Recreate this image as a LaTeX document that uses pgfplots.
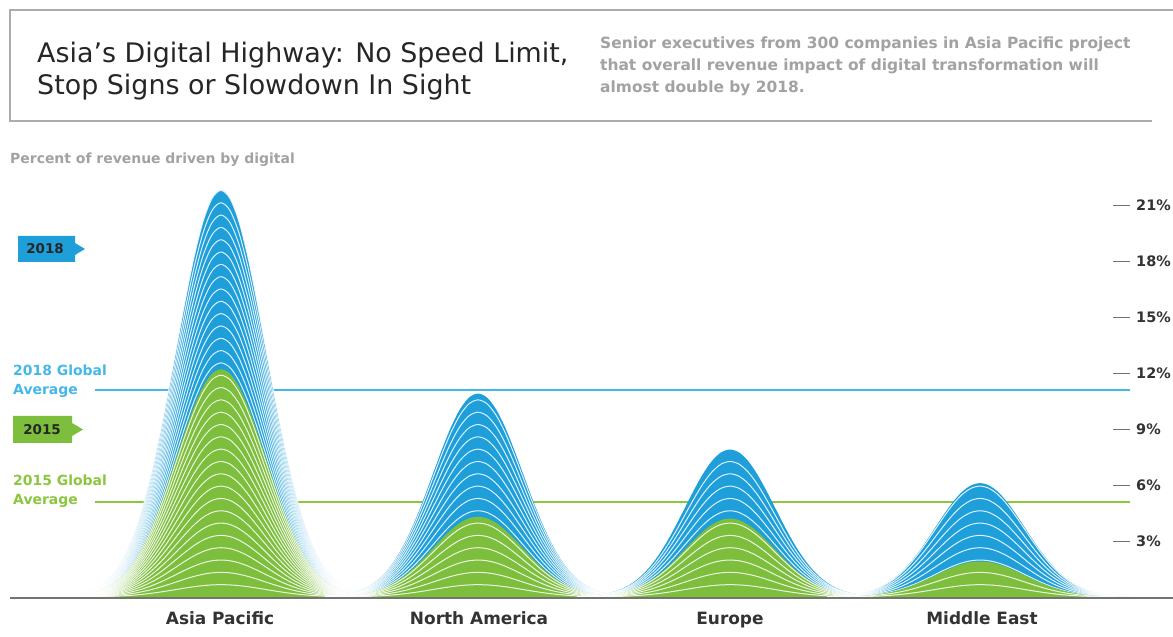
\documentclass[border=0pt]{standalone}
\usepackage{pgfplots}
\pgfplotsset{compat=1.18}
\usepackage{pgfplotstable}
\usepackage{fontspec}
\setmainfont{DejaVu Sans}

\definecolor{digblue}{HTML}{1E9FDA}
\definecolor{diggreen}{HTML}{7DBE3C}
\definecolor{avgblue}{HTML}{45B8E8}
\definecolor{avggreen}{HTML}{8CC63F}
\definecolor{labelgray}{HTML}{333333}
\definecolor{subgray}{HTML}{A2A2A2}
\definecolor{boxgray}{HTML}{ABABAB}

% Share of revenue driven by digital (%), per region
\pgfplotstableread{
center y2015 y2018
221    12.2  21.8
478    4.3   10.9
730    4.2   7.9
980    1.9   6.1
}\regions

% Normalised bell profile: offset u (in widths) and relative height g
\pgfplotstableread{
u     g
-3.4  0.00309
-3.2  0.00598
-3.0  0.01111
-2.8  0.01984
-2.6  0.03405
-2.4  0.05613
-2.2  0.08892
-2.0  0.13534
-1.8  0.19790
-1.6  0.27804
-1.4  0.37531
-1.2  0.48675
-1.0  0.60653
-0.8  0.72615
-0.6  0.83527
-0.4  0.92312
-0.2  0.98020
 0.0  1.00000
 0.2  0.98020
 0.4  0.92312
 0.6  0.83527
 0.8  0.72615
 1.0  0.60653
 1.2  0.48675
 1.4  0.37531
 1.6  0.27804
 1.8  0.19790
 2.0  0.13534
 2.2  0.08892
 2.4  0.05613
 2.6  0.03405
 2.8  0.01984
 3.0  0.01111
 3.2  0.00598
 3.4  0.00309
}\bellshape

\def\bellsigma{45}
\def\linestep{0.66}

% filled bell with nested white contour lines: centre, peak, colour
\newcommand\drawbell[3]{%
  \edef\next{\noexpand\addplot[draw=none, fill=#3, smooth]
    table[x expr=#1+\bellsigma*\noexpand\thisrow{u},
          y expr=#2*\noexpand\thisrow{g}] {\noexpand\bellshape} \noexpand\closedcycle;}\next
  \pgfmathtruncatemacro\nlines{#2/\linestep}%
  \pgfplotsforeachungrouped \k in {1,...,\nlines}{%
    \edef\next{\noexpand\addplot[draw=white, draw opacity=0.85, line width=1bp, smooth]
      table[x expr=#1+\bellsigma*\noexpand\thisrow{u},
            y expr=\k*\linestep*\noexpand\thisrow{g}] {\noexpand\bellshape};}\next
  }%
}
\newcommand\bellpair[1]{%
  \pgfplotstablegetelem{#1}{center}\of\regions\edef\cx{\pgfplotsretval}%
  \pgfplotstablegetelem{#1}{y2018}\of\regions\edef\pa{\pgfplotsretval}%
  \pgfplotstablegetelem{#1}{y2015}\of\regions\edef\pb{\pgfplotsretval}%
  \drawbell{\cx}{\pa}{digblue}%
  \drawbell{\cx}{\pb}{diggreen}%
}

\begin{document}
\begin{tikzpicture}
\path[use as bounding box] (0,0) rectangle (1173bp,637bp);
\clip (0,0) rectangle (1173bp,637bp);
\fill[white] (0,0) rectangle (1173bp,637bp);

\begin{axis}[
  at={(0,0)}, anchor=south west,
  scale only axis, width=1130bp, height=637bp,
  xmin=0, xmax=1130, ymin=-2.1429, ymax=31.982,
  clip=false,
  axis x line=none, axis y line*=right,
  y axis line style={draw=none},
  ytick={3,6,...,21},
  tick align=inside, major tick length=17bp,
  major tick style={draw=black!55, line width=0.9bp},
  yticklabel={\pgfmathprintnumber{\tick}\%},
  yticklabel style={font=\fontsize{14.5}{14.5}\selectfont\bfseries, text=labelgray,
    anchor=west, inner sep=0pt, xshift=6bp},
  /pgf/number format/assume math mode=true,
]
% global averages
\addplot[draw=avgblue, line width=1.6bp] coordinates {(95,11.1) (1130,11.1)};
\addplot[draw=avggreen, line width=1.6bp] coordinates {(95,5.1) (1130,5.1)};
% regional bells
\bellpair{0}
\bellpair{1}
\bellpair{2}
\bellpair{3}
\end{axis}

\begin{scope}[x=1bp, y=-1bp, shift={(0bp,637bp)}]
  % header box
  \draw[boxgray, line width=1.2bp] (1173,10) -- (10,10) -- (10,121) -- (1152,121);
  \node[anchor=base west, inner sep=0, font=\fontsize{27}{30}\selectfont, text=black!85]
    at (37,63) {Asia’s Digital Highway: No Speed Limit,};
  \node[anchor=base west, inner sep=0, font=\fontsize{27}{30}\selectfont, text=black!85]
    at (37,95) {Stop Signs or Slowdown In Sight};
  \begin{scope}[every node/.style={anchor=base west, inner sep=0,
      font=\fontsize{15.5}{18}\selectfont\bfseries, text=subgray}]
    \node at (600,49) {Senior executives from 300 companies in Asia Pacific project};
    \node at (600,71) {that overall revenue impact of digital transformation will};
    \node at (600,93) {almost double by 2018.};
  \end{scope}
  \node[anchor=base west, inner sep=0, font=\fontsize{14}{16}\selectfont\bfseries, text=subgray]
    at (10,164) {Percent of revenue driven by digital};
  % baseline
  \draw[black!55, line width=1.2bp] (10,598) -- (1173,598);
  % year tags
  \fill[digblue] (18,236) -- (75,236) -- (75,243) -- (85,249) -- (75,255) -- (75,262) -- (18,262) -- cycle;
  \node[font=\fontsize{13.5}{13.5}\selectfont\bfseries, text=black!85] at (45,249) {2018};
  \fill[diggreen] (13,416) -- (72,416) -- (72,423) -- (83,429.5) -- (72,436) -- (72,443) -- (13,443) -- cycle;
  \node[font=\fontsize{13.5}{13.5}\selectfont\bfseries, text=black!85] at (42,429.5) {2015};
  % average labels
  \begin{scope}[every node/.style={anchor=base west, inner sep=0,
      font=\fontsize{14}{16}\selectfont\bfseries}]
    \node[text=avgblue] at (13,376) {2018 Global};
    \node[text=avgblue] at (13,395) {Average};
    \node[text=avggreen] at (13,486) {2015 Global};
    \node[text=avggreen] at (13,505) {Average};
  \end{scope}
  % region names
  \begin{scope}[every node/.style={anchor=base, inner sep=0,
      font=\fontsize{17}{17}\selectfont\bfseries, text=labelgray}]
    \node at (220,625) {Asia Pacific};
    \node at (479,625) {North America};
    \node at (730,625) {Europe};
    \node at (982,625) {Middle East};
  \end{scope}
\end{scope}
\end{tikzpicture}
\end{document}
